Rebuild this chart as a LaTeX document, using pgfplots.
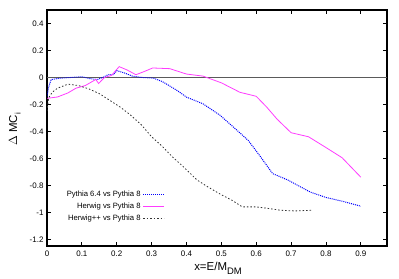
\documentclass[border=0pt]{standalone}
\usepackage{pgfplots}
\pgfplotsset{compat=1.18}
\usepackage{fontspec}
\setmainfont{Liberation Sans}
\definecolor{pyblue}{RGB}{0,0,255}
\definecolor{hwmag}{RGB}{255,60,255}
\definecolor{zgray}{RGB}{90,90,90}
\begin{document}
\begin{tikzpicture}
\begin{axis}[
  at={(0,0)}, anchor=south west,
  scale only axis, width=340bp, height=236bp,
  xmin=0, xmax=0.975, ymin=-1.25, ymax=0.5,
  xtick={0,0.1,0.2,0.3,0.4,0.5,0.6,0.7,0.8,0.9},
  xticklabels={0,0.1,0.2,0.3,0.4,0.5,0.6,0.7,0.8,0.9},
  ytick={-1.2,-1,-0.8,-0.6,-0.4,-0.2,0,0.2,0.4},
  yticklabels={-1.2,-1,-0.8,-0.6,-0.4,-0.2,0,0.2,0.4},
  tick align=inside, major tick length=4bp,
  every tick/.style={black, line width=0.9bp},
  axis line style={line width=1.5bp},
  ticklabel style={font=\fontsize{8}{9.6}\selectfont},
  xticklabel style={yshift=-1bp},
  xlabel={x=E/M\raisebox{-0.35em}{\fontsize{9.5}{10}\selectfont DM}},
  ylabel={$\Delta$ MC\raisebox{-0.3em}{\fontsize{8}{9}\selectfont i}},
  label style={font=\fontsize{11.5}{13}\selectfont},
  xlabel style={at={(axis description cs:0.503,-0.052)}, anchor=north},
  ylabel style={at={(axis description cs:-0.088,0.494)}, anchor=base},
  legend style={at={(rel axis cs:0.356,0.25)}, anchor=north east, draw=none, fill=none,
    font=\fontsize{7.7}{9}\selectfont, row sep=0.8bp},
  legend cell align=right,
  legend plot pos=right,
  legend image code/.code={\draw[#1, line width=1.3bp] (0bp,0bp) -- (21bp,0bp);},
]
\addplot[zgray, line width=1.8bp, forget plot] coordinates {(0,0) (0.975,0)};
\addplot[pyblue, line width=1bp, dash pattern=on 1bp off 1bp] coordinates {
(0,-0.14) (0.005,-0.07) (0.012,-0.015) (0.04,-0.005) (0.07,0.0) (0.1,0.005)
(0.125,-0.01) (0.145,-0.015) (0.16,0.0) (0.175,0.02) (0.19,0.02) (0.2,0.05)
(0.22,0.035) (0.245,0.01) (0.27,0.0) (0.305,-0.005) (0.33,-0.03) (0.35,-0.06)
(0.375,-0.1) (0.40,-0.146) (0.447,-0.195) (0.496,-0.28) (0.544,-0.39) (0.577,-0.467)
(0.61,-0.58) (0.647,-0.713) (0.69,-0.76) (0.755,-0.85) (0.8,-0.89) (0.85,-0.92) (0.9,-0.955)
};
\addlegendentry{Pythia 6.4 vs Pythia 8}
\addplot[hwmag, line width=0.8bp] coordinates {
(0,-0.155) (0.03,-0.145) (0.06,-0.115) (0.083,-0.08) (0.11,-0.06) (0.14,-0.015)
(0.148,-0.045) (0.165,0.0) (0.185,0.015) (0.207,0.08) (0.23,0.055) (0.255,0.02)
(0.28,0.045) (0.303,0.07) (0.352,0.065) (0.40,0.025) (0.447,0.01) (0.5,-0.04)
(0.553,-0.11) (0.60,-0.14) (0.63,-0.22) (0.66,-0.31) (0.70,-0.41) (0.75,-0.44)
(0.80,-0.52) (0.846,-0.595) (0.9,-0.74)
};
\addlegendentry{Herwig vs Pythia 8}
\addplot[black!80, line width=0.8bp, dash pattern=on 1.5bp off 2bp] coordinates {
(0,-0.25) (0.005,-0.15) (0.015,-0.11) (0.03,-0.08) (0.06,-0.05) (0.09,-0.06)
(0.12,-0.085) (0.15,-0.12) (0.18,-0.17) (0.21,-0.22) (0.24,-0.28) (0.27,-0.35)
(0.30,-0.44) (0.33,-0.51) (0.36,-0.59) (0.39,-0.66) (0.43,-0.76) (0.46,-0.81)
(0.5,-0.87) (0.53,-0.91) (0.56,-0.96) (0.6,-0.96) (0.63,-0.97) (0.67,-0.985)
(0.71,-0.99) (0.76,-0.985)
};
\addlegendentry{Herwig++ vs Pythia 8}
\end{axis}
\path[use as bounding box] (-47bp,-33bp) rectangle (352bp,246bp);
\end{tikzpicture}
\end{document}
